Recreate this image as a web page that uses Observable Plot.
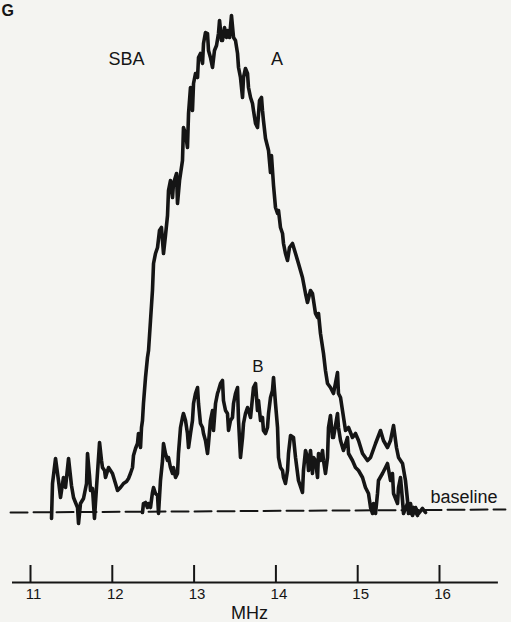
<!DOCTYPE html>
<html><head><meta charset="utf-8">
<script src="https://cdn.jsdelivr.net/npm/d3@7"></script>
<script src="https://cdn.jsdelivr.net/npm/@observablehq/plot@0.6"></script>
<style>
html,body{margin:0;padding:0;background:#f4f4f1;overflow:hidden;}
#chart svg{display:block;}
</style></head><body><div id="chart"></div>
<script>
// Spectrum A (MHz, relative amplitude above baseline, arbitrary units)
const freqA = [11.257,11.269,11.306,11.342,11.367,11.403,11.428,11.465,11.501,11.526,11.550,11.575,11.587,11.611,11.648,11.685,11.697,11.721,11.734,11.758,11.782,11.807,11.844,11.868,11.880,11.905,11.917,11.954,11.978,12.002,12.039,12.064,12.100,12.137,12.174,12.198,12.222,12.247,12.259,12.284,12.308,12.320,12.345,12.357,12.369,12.381,12.406,12.430,12.443,12.467,12.491,12.504,12.528,12.553,12.577,12.601,12.626,12.650,12.675,12.687,12.711,12.736,12.748,12.785,12.797,12.822,12.858,12.870,12.895,12.919,12.932,12.956,12.980,12.993,13.017,13.042,13.054,13.078,13.103,13.115,13.139,13.164,13.176,13.200,13.225,13.249,13.274,13.298,13.311,13.335,13.347,13.372,13.396,13.408,13.433,13.457,13.482,13.506,13.531,13.543,13.567,13.592,13.604,13.628,13.653,13.665,13.690,13.714,13.726,13.751,13.775,13.800,13.824,13.836,13.848,13.873,13.910,13.934,13.946,13.971,13.995,14.020,14.032,14.056,14.081,14.093,14.117,14.142,14.166,14.203,14.240,14.276,14.325,14.362,14.386,14.423,14.447,14.484,14.509,14.521,14.545,14.582,14.606,14.631,14.667,14.704,14.753,14.765,14.790,14.814,14.851,14.888,14.936,14.973,15.010,15.059,15.120,15.157,15.218,15.279,15.315,15.364,15.401,15.438,15.474,15.499,15.548,15.584,15.609,15.621,15.646,15.670,15.707,15.743,15.792,15.829];
const ampA = [-7,28,53,31,14,34,24,53,26,14,9,4,-12,8,13,28,58,36,21,23,-7,24,69,51,44,41,34,44,41,38,28,21,24,28,30,33,38,44,56,63,68,78,64,84,91,108,134,154,161,191,221,248,258,264,281,284,258,276,296,321,331,314,328,338,308,331,351,384,378,364,398,424,401,428,438,434,454,458,448,468,479,478,461,454,444,461,466,478,491,471,471,484,474,481,474,496,474,471,458,444,434,414,434,443,438,424,414,408,401,388,384,411,414,401,391,373,361,339,356,326,304,298,301,284,278,268,258,251,264,268,258,248,234,218,209,221,218,198,194,198,178,158,141,128,124,118,139,118,114,101,81,84,74,78,71,58,51,54,68,81,71,64,71,86,64,54,48,31,11,-2,8,-4,4,-2,3,-1];

// Spectrum B
const freqB = [12.369,12.381,12.406,12.430,12.443,12.467,12.491,12.504,12.528,12.553,12.565,12.589,12.614,12.626,12.650,12.675,12.687,12.711,12.736,12.748,12.773,12.797,12.809,12.834,12.858,12.870,12.895,12.919,12.932,12.956,12.980,12.993,13.017,13.042,13.054,13.078,13.103,13.115,13.139,13.164,13.176,13.200,13.225,13.237,13.262,13.286,13.298,13.323,13.347,13.359,13.384,13.408,13.421,13.445,13.469,13.482,13.506,13.531,13.543,13.567,13.592,13.604,13.628,13.653,13.665,13.690,13.714,13.726,13.751,13.775,13.787,13.812,13.836,13.848,13.873,13.897,13.910,13.934,13.958,13.971,13.995,14.020,14.032,14.056,14.081,14.093,14.117,14.142,14.154,14.179,14.215,14.240,14.276,14.325,14.337,14.362,14.386,14.399,14.423,14.447,14.460,14.484,14.509,14.521,14.545,14.570,14.582,14.606,14.631,14.643,14.667,14.692,14.704,14.753,14.765,14.790,14.826,14.875,14.888,14.936,14.973,15.010,15.059,15.095,15.132,15.157,15.181,15.193,15.218,15.242,15.254,15.303,15.340,15.364,15.401,15.425,15.438,15.487,15.499,15.523,15.548,15.560,15.609,15.646,15.682,15.731];
const ampB = [-1,8,9,4,8,4,19,24,18,16,-2,31,51,68,58,51,54,44,38,44,34,38,58,84,94,98,91,78,64,78,91,108,118,124,108,88,84,78,71,58,68,91,101,81,108,118,121,128,131,111,101,98,81,91,94,108,118,124,91,54,74,88,98,104,101,94,114,124,128,101,111,91,94,81,78,84,98,114,121,134,108,84,54,44,41,34,28,41,58,76,74,54,31,19,41,61,54,41,61,38,54,51,34,58,51,61,51,38,54,84,96,74,74,98,84,71,61,74,58,51,44,41,34,24,18,4,-2,8,-2,18,31,38,44,48,31,38,18,8,24,34,11,-2,8,-2,4,-4];

// Axis and reference line
const tickMHz = [11, 12, 13, 14, 15, 16];
const tickLabels = ["11", "12", "13", "14", "15", "16"];
const baselineFreq = [10.756, 16.806];
const baselineAmp = [-1, 2];
const axisFreq = [10.78, 16.72];
const axisLevel = -71;
const tickTop = -54;
const tickLabelLevel = -83;

const ink = "#151515";
const font = "Liberation Sans, Arial, sans-serif";
const A = freqA.map((f, i) => ({f, a: ampA[i]}));
const B = freqB.map((f, i) => ({f, a: ampB[i]}));

const chart = Plot.plot({
  width: 511,
  height: 622,
  marginLeft: 30,
  marginRight: 72,
  marginTop: 0,
  marginBottom: 0,
  x: {domain: [11, 16], axis: null},
  y: {domain: [-111, 511], axis: null},
  style: {background: "transparent", fontFamily: font, color: ink},
  marks: [
    // dashed baseline
    Plot.line(baselineFreq.map((f, i) => ({f, a: baselineAmp[i]})), {x: "f", y: "a", stroke: ink, strokeWidth: 2, strokeDasharray: "17,6"}),
    // curves
    Plot.line(B, {x: "f", y: "a", stroke: ink, strokeWidth: 3.6, strokeLinejoin: "round", strokeLinecap: "round", curve: "linear"}),
    Plot.line(A, {x: "f", y: "a", stroke: ink, strokeWidth: 3.6, strokeLinejoin: "round", strokeLinecap: "round", curve: "linear"}),
    // frequency axis
    Plot.ruleY([axisLevel], {x1: axisFreq[0], x2: axisFreq[1], stroke: ink, strokeWidth: 2}),
    Plot.ruleX(tickMHz, {x: d => d, y1: axisLevel, y2: tickTop, stroke: ink, strokeWidth: 2}),
    Plot.text(tickMHz, {x: d => d, y: tickLabelLevel, text: (d, i) => tickLabels[i], dx: 3, fontSize: 15, fill: ink}),
    Plot.text(["MHz"], {x: 13.677, y: -102, text: d => d, fontSize: 18, fill: ink}),
    // annotations
    Plot.text(["SBA"], {x: 12.174, y: 452, text: d => d, fontSize: 18, fill: ink}),
    Plot.text(["A"], {x: 14.013, y: 452, text: d => d, fontSize: 18, fill: ink}),
    Plot.text(["B"], {x: 13.781, y: 145, text: d => d, fontSize: 17, fill: ink}),
    Plot.text(["baseline"], {x: 15.89, y: 14, text: d => d, textAnchor: "start", fontSize: 18, letterSpacing: 1.2, fill: ink}),
    Plot.text(["G"], {x: 10.645, y: 501, text: d => d, textAnchor: "start", fontSize: 16, fontWeight: "bold", fill: ink})
  ]
});
document.getElementById("chart").appendChild(chart);
</script>
</body></html>
